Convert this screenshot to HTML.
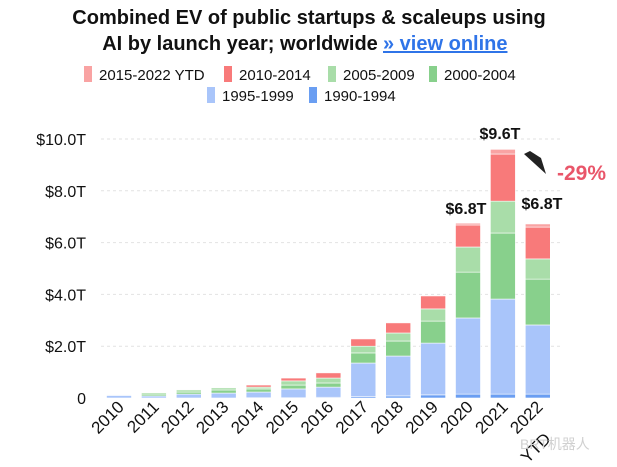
<!DOCTYPE html>
<html><head><meta charset="utf-8"><style>
body{margin:0;background:#fff;}
svg{display:block;font-family:"Liberation Sans","Noto Sans CJK SC",sans-serif;}
</style></head><body>
<svg id="chart" width="617" height="467" viewBox="0 0 617 467">
<g>
<text x="309" y="24" text-anchor="middle" font-size="20" font-weight="bold" fill="#111">Combined EV of public startups &amp; scaleups using</text>
<text x="240" y="50" text-anchor="middle" font-size="20" font-weight="bold" fill="#111">AI by launch year; worldwide</text>
<text x="383" y="50" font-size="20" font-weight="bold" fill="#2f74e8" text-decoration="underline">» view online</text>
</g>
<g id="legend"></g>
<g id="grid"></g>
<g id="bars"></g>
<g id="labels"></g>
<g>
<text x="500" y="139" text-anchor="middle" font-size="16" font-weight="bold" fill="#111">$9.6T</text>
<text x="466" y="214" text-anchor="middle" font-size="16" font-weight="bold" fill="#111">$6.8T</text>
<text x="542" y="209" text-anchor="middle" font-size="16" font-weight="bold" fill="#111">$6.8T</text>
<polygon points="524,154 546,174 541,158 530,151" fill="#222"/>
<text x="557" y="180" font-size="21" font-weight="bold" fill="#e9566a">-29%</text>
</g>
<text x="520" y="449" font-size="14" fill="#d0d0d0">BRT机器人</text>
</svg>
<script>
const years=["2010","2011","2012","2013","2014","2015","2016","2017","2018","2019","2020","2021","2022"];
const seriesNames=["1990-1994","1995-1999","2000-2004","2005-2009","2010-2014","2015-2022 YTD"];
const s1990=[0,0,0,0,0.01,0.01,0.03,0.05,0.08,0.12,0.15,0.15,0.15];
const s1995=[0.1,0.08,0.15,0.19,0.22,0.34,0.39,1.3,1.54,2.0,2.94,3.67,2.67];
const s2000=[0,0.07,0.08,0.12,0.12,0.15,0.16,0.39,0.58,0.85,1.77,2.55,1.77];
const s2005=[0.02,0.05,0.08,0.08,0.07,0.16,0.19,0.26,0.31,0.47,0.97,1.23,0.78];
const s2010=[0,0,0,0,0.08,0.11,0.2,0.28,0.39,0.5,0.85,1.82,1.23];
const s2015=[0,0,0,0,0,0,0,0,0,0,0.07,0.18,0.12];
const yTicks=[0,2,4,6,8,10];
const yTickLabels=["0","$2.0T","$4.0T","$6.0T","$8.0T","$10.0T"];
const colors=["#6a9ef2","#a9c5fa","#88d08c","#a9dda9","#f87a7a","#f9a3a3"];
const series=[s1990,s1995,s2000,s2005,s2010,s2015];
const NS="http://www.w3.org/2000/svg";
const y0=398, pxPerT=25.9, x0=119, step=34.9, bw=25;
const yScale=v=>y0-v*pxPerT;
const xScale=i=>x0+i*step;
function mk(tag,attrs,parent){const e=document.createElementNS(NS,tag);for(const k in attrs)e.setAttribute(k,attrs[k]);parent.appendChild(e);return e;}
const grid=document.getElementById('grid'),bars=document.getElementById('bars'),labels=document.getElementById('labels'),legend=document.getElementById('legend');
yTicks.forEach((t,i)=>{
  if(t>0){const l=mk('line',{x1:101,x2:560,y1:yScale(t),y2:yScale(t),stroke:"#e2e2e2","stroke-dasharray":"3,3"},grid);
  
  }
  const tx=mk('text',{x:86,y:yScale(t)+6,"text-anchor":"end","font-size":"16",fill:"#111"},labels);
  tx.textContent=yTickLabels[i];
  
  
});
years.forEach((yr,i)=>{
  let acc=0;
  series.forEach((s,k)=>{
    const v=s[i]; if(v<=0)return;
    const r=mk('rect',{x:xScale(i)-bw/2,y:yScale(acc+v),width:bw,height:v*pxPerT,fill:colors[k],stroke:"#fff","stroke-width":"0.6"},bars);
    
    
    acc+=v;
  });
  const cx=xScale(i)+6, cy=408;
  const t=mk('text',{x:cx,y:cy,"text-anchor":"end","font-size":"17",fill:"#111",transform:`rotate(-45 ${cx} ${cy})`},labels);
  t.textContent=yr;
  
  
});
const ytx=xScale(12)+14, yty=440;
const yl=mk('text',{x:ytx,y:yty,"text-anchor":"end","font-size":"17",fill:"#111",transform:`rotate(-45 ${ytx} ${yty})`},labels);
yl.textContent="YTD";


const legendItems=[[5,"2015-2022 YTD",84,77],[4,"2010-2014",224,77],[3,"2005-2009",328,77],[2,"2000-2004",429,77],[1,"1995-1999",207,98],[0,"1990-1994",309,98]];
legendItems.forEach(([k,name,x,y])=>{
  const g=mk('g',{},legend);
  
  
  mk('rect',{x:x,y:y-11,width:8,height:16,fill:colors[k]},g);
  const t=mk('text',{x:x+15,y:y+3,"font-size":"15",fill:"#111"},g);
  t.textContent=name;
});
</script>
</body></html>
